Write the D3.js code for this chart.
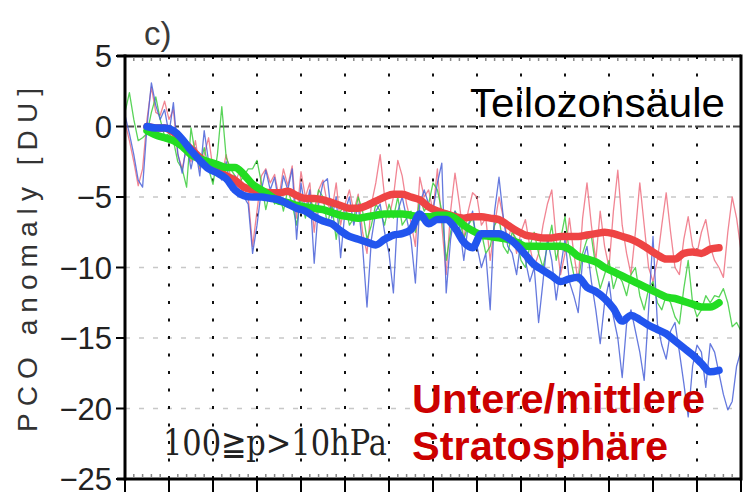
<!doctype html>
<html>
  <head>
    <meta charset="utf-8">
    <script src="https://d3js.org/d3.v7.min.js"></script>
    <style>
      body { margin: 0; background: white; }
      svg { display: block; font-family: "Liberation Sans", Arial, sans-serif; }
    </style>
  </head>
  <body>
    <svg class="chart" width="749" height="497"></svg>
    <script>
      // years of the annual series and of the 11-yr running mean (every 2nd year)
      var yearStart = 1960, yearEnd = 2100;
      var yTicks = [5, 0, -5, -10, -15, -20, -25];
      var yTickLabels = ["5", "0", "\u22125", "\u221210", "\u221215", "\u221220", "\u221225"];

      var redThin = [0.3,-1.0,-2.5,-4.2,-3.0,0.5,2.8,1.0,0.8,1.8,
        0.5,1.2,-2.0,-3.0,-1.5,-2.5,-1.0,-3.0,-2.0,-0.8,
        -3.0,-2.5,-3.5,-2.0,-3.6,-4.0,-3.2,-4.8,-5.0,-8.5,
        -6.0,-3.5,-3.0,-4.0,-3.4,-5.0,-3.0,-4.2,-2.8,-6.5,
        -3.2,-5.0,-4.0,-7.5,-4.5,-3.8,-5.5,-6.0,-4.0,-7.0,
        -5.5,-4.5,-6.0,-4.8,-7.5,-9.0,-5.5,-4.0,-2.0,-5.0,
        -6.5,-5.0,-2.4,-3.5,-5.5,-6.8,-8.5,-3.6,-5.0,-4.5,
        -6.0,-3.0,-7.0,-10.5,-6.0,-3.3,-5.5,-8.0,-6.0,-4.7,
        -5.0,-7.0,-6.5,-9.5,-7.0,-5.0,-6.5,-8.0,-7.0,-9.0,
        -7.5,-6.6,-8.5,-10.0,-9.0,-7.0,-5.5,-4.5,-8.0,-10.5,
        -9.0,-6.5,-9.0,-11.0,-6.5,-4.0,-7.0,-9.5,-6.0,-8.5,
        -10.0,-6.0,-3.1,-7.0,-9.0,-10.5,-7.5,-4.0,-7.0,-10.0,
        -11.0,-9.5,-7.0,-4.7,-7.5,-10.0,-10.5,-8.0,-6.4,-8.5,
        -9.0,-7.5,-6.6,-8.5,-9.5,-10.0,-10.7,-7.5,-5.0,-6.5,
        -8.8];

      var greenThin = [1.0,2.4,0.5,-1.0,-0.8,-0.5,1.0,2.1,0.5,-0.7,
        -0.5,-1.0,-2.5,-3.0,-4.3,-0.1,-2.0,-2.8,-1.5,-3.0,
        -4.1,-2.0,1.4,-2.2,-3.0,-3.5,-4.0,-3.5,-3.0,-3.0,
        -2.4,-4.0,-5.9,-4.5,-5.5,-4.5,-6.0,-4.5,-5.5,-7.0,
        -5.0,-6.5,-5.0,-6.0,-4.5,-5.0,-7.0,-5.5,-8.0,-6.0,
        -5.5,-7.0,-6.5,-5.0,-6.0,-8.0,-7.0,-5.5,-6.0,-7.0,
        -5.5,-6.5,-5.0,-7.0,-6.5,-6.0,-7.5,-5.0,-6.0,-5.5,
        -4.0,-4.5,-6.0,-9.5,-7.5,-6.0,-6.5,-8.0,-7.0,-6.5,
        -8.0,-7.5,-9.0,-8.5,-7.0,-6.5,-8.5,-9.0,-7.5,-8.0,
        -9.5,-10.0,-8.5,-7.5,-9.0,-10.0,-8.5,-7.0,-9.5,-8.0,
        -6.4,-9.0,-10.5,-11.0,-9.0,-8.0,-7.8,-10.0,-11.5,-10.5,
        -9.5,-11.5,-10.5,-11.0,-12.0,-10.5,-10.0,-12.0,-13.0,-11.5,
        -11.0,-12.5,-13.0,-12.0,-12.5,-13.5,-14.0,-11.5,-9.5,-12.5,
        -13.5,-13.0,-12.0,-12.5,-12.0,-12.1,-11.5,-12.5,-14.2,-13.9,
        -14.5];

      var blueThin = [0.8,-0.5,-2.0,-3.8,-4.3,0.0,3.1,1.5,0.5,1.2,
        -0.5,1.7,-1.9,-3.3,-1.2,-3.0,-1.5,-3.5,-0.3,-2.5,
        -3.1,-3.3,-3.8,-2.5,-4.5,-3.5,-4.0,-5.0,-5.5,-9.0,
        -7.0,-4.5,-3.1,-4.5,-3.6,-5.5,-3.5,-4.5,-3.0,-8.0,
        -4.0,-6.0,-4.5,-9.7,-5.5,-4.0,-3.7,-6.5,-5.0,-9.3,
        -6.0,-5.0,-7.0,-5.5,-8.5,-12.8,-8.0,-6.0,-5.5,-7.5,
        -9.0,-11.8,-6.0,-5.0,-6.5,-8.0,-11.1,-5.5,-4.5,-5.5,
        -6.0,-4.0,-2.6,-11.8,-8.0,-6.0,-7.0,-9.5,-7.0,-6.0,
        -8.5,-10.0,-9.0,-13.0,-6.0,-3.6,-6.5,-8.5,-9.0,-10.5,
        -8.0,-9.5,-11.0,-10.0,-13.9,-11.0,-8.0,-9.5,-12.3,-10.0,
        -8.0,-11.0,-12.0,-13.2,-9.5,-8.5,-11.0,-13.0,-15.4,-12.5,
        -11.0,-13.5,-15.0,-17.8,-14.0,-13.0,-14.5,-16.0,-18.0,-13.0,
        -7.8,-14.0,-15.5,-16.5,-14.5,-13.9,-16.0,-18.2,-20.6,-17.0,
        -15.5,-16.0,-18.5,-15.4,-16.0,-17.5,-19.0,-20.1,-19.5,-17.0,
        -15.9];

      // smoothed series, 1965..2095 every 2 years
      var redMean = [0.0,-0.1,-0.1,-0.4,-1.0,-1.6,-2.2,-2.7,-3.1,-3.5,
        -3.8,-4.3,-4.5,-4.6,-4.7,-4.7,-4.6,-4.9,-5.1,-5.1,
        -5.2,-5.4,-5.6,-5.8,-5.8,-5.6,-5.3,-5.0,-4.8,-4.8,
        -5.0,-5.2,-5.7,-6.0,-6.2,-6.4,-6.5,-6.4,-6.4,-6.5,
        -6.6,-7.0,-7.4,-7.7,-7.8,-7.9,-7.9,-7.8,-7.8,-7.8,
        -7.7,-7.6,-7.5,-7.6,-7.8,-8.0,-8.3,-8.7,-9.1,-9.4,
        -9.4,-9.0,-8.9,-9.0,-8.7,-8.6];
      var greenMean = [-0.3,-0.6,-0.8,-1.0,-1.4,-2.0,-2.3,-2.5,-2.7,-2.9,
        -2.9,-3.4,-4.1,-4.5,-4.9,-5.3,-5.4,-5.6,-5.7,-5.8,
        -5.9,-6.1,-6.3,-6.4,-6.5,-6.4,-6.3,-6.2,-6.2,-6.2,
        -6.3,-6.4,-6.4,-6.3,-6.3,-6.5,-7.0,-7.4,-7.7,-7.8,
        -7.9,-8.0,-8.2,-8.5,-8.5,-8.5,-8.5,-8.5,-8.7,-9.2,
        -9.4,-9.6,-10.0,-10.3,-10.6,-10.9,-11.2,-11.5,-11.8,-12.1,
        -12.2,-12.4,-12.6,-12.8,-12.8,-12.5];
      var blueMean = [0.0,-0.1,-0.1,-0.3,-0.9,-1.7,-2.4,-3.0,-3.3,-3.7,
        -4.5,-4.9,-5.0,-5.0,-5.1,-5.2,-5.5,-5.8,-6.0,-6.4,
        -6.7,-6.9,-7.4,-7.8,-8.0,-8.2,-8.4,-8.0,-7.7,-7.6,
        -7.3,-6.2,-6.9,-6.6,-6.6,-7.2,-8.2,-8.6,-7.6,-7.6,
        -7.6,-7.9,-8.4,-9.1,-9.8,-10.2,-10.6,-11.0,-10.8,-10.7,
        -11.4,-11.7,-12.2,-12.9,-13.8,-13.4,-13.7,-14.1,-14.4,-14.7,
        -15.2,-15.7,-16.2,-16.8,-17.4,-17.3];

      var years = d3.range(yearStart, yearEnd + 1);
      var meanYears = d3.range(1965, 2096, 2);

      var pLeft = 125, pRight = 741, pTop = 56, pBottom = 479;
      var svg = d3.select("svg");
      var x = d3.scaleLinear().domain([yearStart, yearEnd]).range([pLeft, pRight]);
      var y = d3.scaleLinear().domain([-25, 5]).range([pBottom, pTop]);

      svg.append("defs").append("clipPath").attr("id", "plot")
        .append("rect").attr("x", pLeft).attr("y", pTop)
        .attr("width", pRight - pLeft).attr("height", pBottom - pTop);

      // horizontal grid
      svg.append("g").selectAll("line")
        .data([-5, -10, -15, -20])
        .enter().append("line")
          .attr("x1", pLeft).attr("x2", pRight)
          .attr("y1", function(d){return y(d);})
          .attr("y2", function(d){return y(d);})
          .attr("stroke", "#c8c8c8").attr("stroke-width", 1.3)
          .attr("stroke-dasharray", "5,9");

      // vertical dotted grid
      svg.append("g").selectAll("line")
        .data(d3.range(1970, 2100, 10))
        .enter().append("line")
          .attr("x1", function(d){return x(d);})
          .attr("x2", function(d){return x(d);})
          .attr("y1", pTop).attr("y2", pBottom)
          .attr("stroke", "#111").attr("stroke-width", 2)
          .attr("stroke-dasharray", "3,14.5");

      // zero line
      svg.append("line")
        .attr("x1", pLeft).attr("x2", pRight)
        .attr("y1", y(0)).attr("y2", y(0))
        .attr("stroke", "#4a4a4a").attr("stroke-width", 2)
        .attr("stroke-dasharray", "9,3,4,3");

      var line = function(xs, curve) {
        return d3.line()
          .x(function(d, i){return x(xs[i]);})
          .y(function(d){return y(d);})
          .curve(curve);
      };

      var plot = svg.append("g").attr("clip-path", "url(#plot)");

      var thin = [[redThin, "#ef7080"], [greenThin, "#3ccc3c"], [blueThin, "#4a62d8"]];
      thin.forEach(function(s) {
        plot.append("path")
          .attr("d", line(years, d3.curveLinear)(s[0]))
          .attr("fill", "none").attr("stroke", s[1])
          .attr("stroke-width", 1.3).attr("stroke-opacity", 0.85)
          .attr("stroke-linejoin", "round");
      });

      var thick = [[redMean, "#ee4444"], [greenMean, "#22dd22"], [blueMean, "#2255ee"]];
      thick.forEach(function(s) {
        plot.append("path")
          .attr("d", line(meanYears, d3.curveMonotoneX)(s[0]))
          .attr("fill", "none").attr("stroke", s[1])
          .attr("stroke-width", 7.5)
          .attr("stroke-linejoin", "round").attr("stroke-linecap", "round");
      });

      // frame
      var frame = svg.append("g").attr("stroke", "black").attr("stroke-width", 3);
      frame.append("line").attr("x1", pLeft).attr("x2", pLeft).attr("y1", pTop - 1.5).attr("y2", pBottom + 1.5);
      frame.append("line").attr("x1", pRight).attr("x2", pRight).attr("y1", pTop - 1.5).attr("y2", pBottom + 1.5);
      frame.append("line").attr("x1", pLeft - 8).attr("x2", pRight).attr("y1", pTop).attr("y2", pTop);
      frame.append("line").attr("x1", pLeft - 8).attr("x2", pRight).attr("y1", pBottom).attr("y2", pBottom);

      // minor ticks on top and bottom
      var minor = d3.range(1962, 2100, 2).filter(function(d){return d % 10 !== 0;});
      svg.append("g").selectAll("line").data(minor).enter().append("line")
        .attr("x1", function(d){return x(d);}).attr("x2", function(d){return x(d);})
        .attr("y1", pBottom - 1).attr("y2", pBottom - 5)
        .attr("stroke", "#888").attr("stroke-width", 1.5);
      svg.append("g").selectAll("line").data(minor).enter().append("line")
        .attr("x1", function(d){return x(d);}).attr("x2", function(d){return x(d);})
        .attr("y1", pTop + 1).attr("y2", pTop + 5)
        .attr("stroke", "#888").attr("stroke-width", 1.5);

      // major ticks below
      svg.append("g").selectAll("line").data(d3.range(yearStart, yearEnd + 1, 10)).enter().append("line")
        .attr("x1", function(d){return x(d);}).attr("x2", function(d){return x(d);})
        .attr("y1", pBottom).attr("y2", pBottom + 13)
        .attr("stroke", "black").attr("stroke-width", 2);

      // y ticks and labels
      svg.append("g").selectAll("line").data(yTicks).enter().append("line")
        .attr("x1", pLeft - 9).attr("x2", pLeft)
        .attr("y1", function(d){return y(d);}).attr("y2", function(d){return y(d);})
        .attr("stroke", "black").attr("stroke-width", 2);
      svg.append("g").selectAll("text").data(yTicks).enter().append("text")
        .attr("x", 112).attr("y", function(d){return y(d) + 11;})
        .attr("text-anchor", "end").attr("font-size", 31).attr("fill", "#222")
        .text(function(d, i){return yTickLabels[i];});

      svg.append("text")
        .attr("transform", "translate(37,260) rotate(-90)")
        .attr("text-anchor", "middle").attr("font-size", 28).attr("fill", "#333")
        .attr("textLength", 344).attr("lengthAdjust", "spacing")
        .text("PCO anomaly [DU]");

      svg.append("text").attr("x", 144).attr("y", 45)
        .attr("font-size", 33).attr("fill", "#3a3a3a").text("c)");

      svg.append("text").attr("x", 470).attr("y", 117)
        .attr("font-size", 41).attr("fill", "black")
        .attr("textLength", 255).attr("lengthAdjust", "spacingAndGlyphs")
        .text("Teilozonsäule");

      svg.append("text").attr("x", 163).attr("y", 455)
        .attr("font-family", "'DejaVu Serif', serif")
        .attr("font-size", 35).attr("fill", "#222")
        .attr("textLength", 224).attr("lengthAdjust", "spacingAndGlyphs")
        .text("100\u2267p>10hPa");

      svg.append("text").attr("x", 412).attr("y", 413)
        .attr("font-size", 41).attr("font-weight", "bold").attr("fill", "#cc0000")
        .attr("textLength", 293).attr("lengthAdjust", "spacingAndGlyphs")
        .text("Untere/mittlere");
      svg.append("text").attr("x", 412).attr("y", 460)
        .attr("font-size", 41).attr("font-weight", "bold").attr("fill", "#cc0000")
        .attr("textLength", 256).attr("lengthAdjust", "spacingAndGlyphs")
        .text("Stratosphäre");
    </script>
  </body>
</html>
